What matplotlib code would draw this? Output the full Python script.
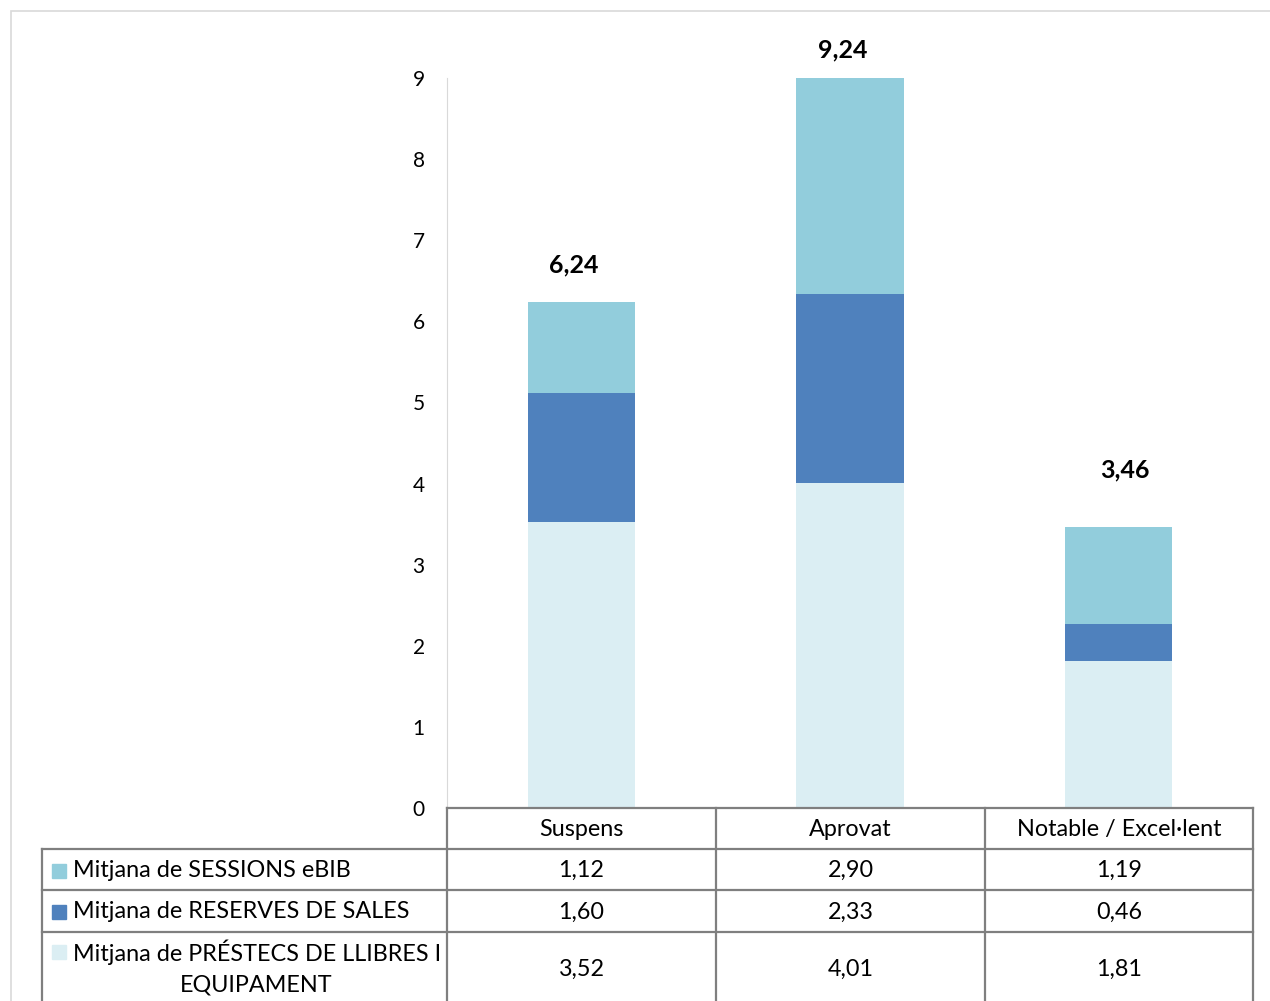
import matplotlib.pyplot as plt
from matplotlib.patches import Rectangle
from matplotlib.lines import Line2D

plt.rcParams['font.family'] = ['Lato', 'DejaVu Sans']

categories = ['Suspens', 'Aprovat', 'Notable / Excel·lent']
series_names = ['Mitjana de SESSIONS eBIB',
                'Mitjana de RESERVES DE SALES',
                'Mitjana de PRÉSTECS DE LLIBRES I\nEQUIPAMENT']
sessions = [1.12, 2.90, 1.19]
reserves = [1.60, 2.33, 0.46]
prestecs = [3.52, 4.01, 1.81]
totals = [6.24, 9.24, 3.46]
colors = ['#92CDDC', '#4F81BD', '#DBEEF3']

W, H = 1270, 1001
fig = plt.figure(figsize=(W / 100, H / 100), dpi=100)

def fx(px):
    return px / W

def fy(py):
    return 1 - py / H

# marc exterior del gràfic
fig.patches.append(Rectangle((fx(11), fy(1100)), fx(1400), fy(11) - fy(1100),
                             transform=fig.transFigure, fill=False,
                             edgecolor='#D9D9D9', lw=1.2))

ax_l, ax_r, ax_t, ax_b = 447, 1253, 78, 808
ax = fig.add_axes([fx(ax_l), fy(ax_b), fx(ax_r - ax_l), fy(ax_t) - fy(ax_b)])

x = range(len(categories))
ax.bar(x, prestecs, width=0.4, color=colors[2])
ax.bar(x, reserves, width=0.4, bottom=prestecs, color=colors[1])
bott = [a + b for a, b in zip(prestecs, reserves)]
ax.bar(x, sessions, width=0.4, bottom=bott, color=colors[0])

ax.set_xlim(-0.5, 2.5)
ax.set_ylim(0, 9)
ax.set_yticks(range(0, 10))
ax.set_xticks([])
ax.tick_params(axis='y', length=0, labelsize=15, pad=16)
for s in ['top', 'right', 'bottom']:
    ax.spines[s].set_visible(False)
ax.spines['left'].set_color('#D9D9D9')

# totals a sobre (posició de l'etiqueta, en píxels)
offs = [(-8, 37), (-7, 28), (6, 57)]
for i, t in enumerate(totals):
    ax.annotate(f'{t:.2f}'.replace('.', ','), (i, min(t, 9)),
                xytext=offs[i], textcoords='offset pixels',
                ha='center', va='center', fontsize=18, fontweight='bold',
                annotation_clip=False)

# taula de dades
col_x = [42, 447, 716, 985, 1253]
row_y = [808, 849, 890, 932, 1040]
lc = '#7F7F7F'
lw = 1.6

def hline(y, x0, x1):
    fig.add_artist(Line2D([fx(x0), fx(x1)], [fy(y), fy(y)], color=lc, lw=lw))

def vline(x0, y0, y1):
    fig.add_artist(Line2D([fx(x0), fx(x0)], [fy(y0), fy(y1)], color=lc, lw=lw))

hline(row_y[0], col_x[1], col_x[-1])
for y in row_y[1:4]:
    hline(y, col_x[0], col_x[-1])
vline(col_x[0], row_y[1], row_y[-1])
for cx in col_x[1:]:
    vline(cx, row_y[0], row_y[-1])

fs = 16.8
for j, c in enumerate(categories):
    xc = (col_x[j + 1] + col_x[j + 2]) / 2
    fig.text(fx(xc), fy((row_y[0] + row_y[1]) / 2 + 1), c, ha='center', va='center', fontsize=fs)

rows = [sessions, reserves, prestecs]
row_centers = [(row_y[1] + row_y[2]) / 2 + 1, (row_y[2] + row_y[3]) / 2 + 1, 969]
for i, vals in enumerate(rows):
    yc = row_centers[i]
    for j, v in enumerate(vals):
        xc = (col_x[j + 1] + col_x[j + 2]) / 2
        fig.text(fx(xc), fy(yc), f'{v:.2f}'.replace('.', ','), ha='center', va='center', fontsize=fs)
    mk_y = yc if i < 2 else 952
    fig.patches.append(Rectangle((fx(52), fy(mk_y + 7)), fx(14), fy(mk_y - 7) - fy(mk_y + 7),
                                 transform=fig.transFigure, color=colors[i]))
    if i < 2:
        fig.text(fx(73), fy(yc), series_names[i], ha='left', va='center', fontsize=fs)
    else:
        l1, l2 = series_names[i].split('\n')
        fig.text(fx(73), fy(952), l1, ha='left', va='center', fontsize=fs)
        fig.text(fx(256), fy(985), l2, ha='center', va='center', fontsize=fs)

fig.savefig('out.png', dpi=100)
